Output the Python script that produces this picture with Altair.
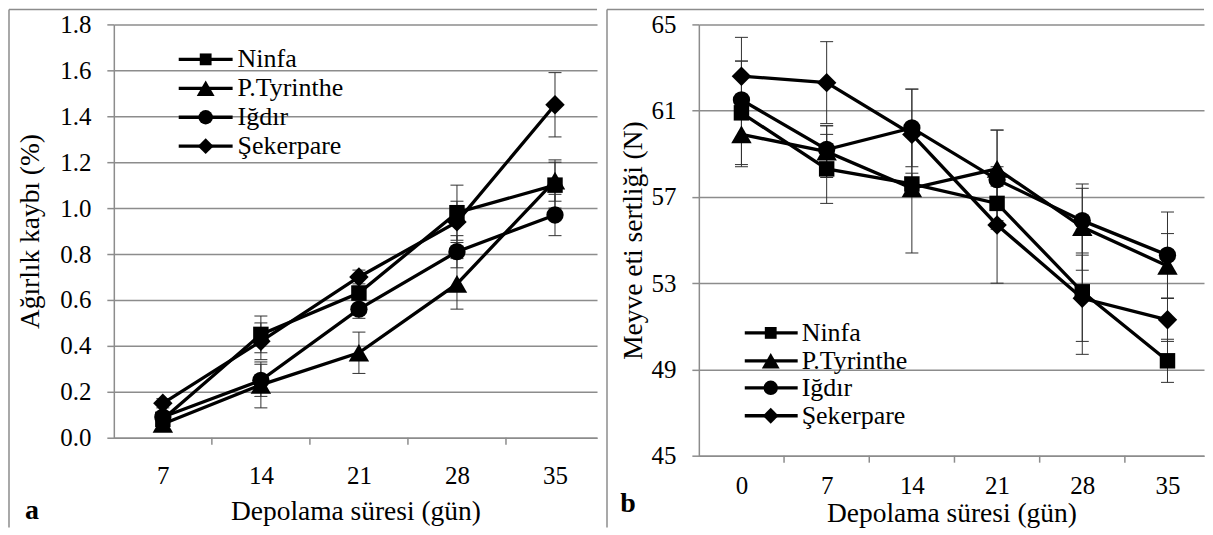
import altair as alt
import pandas as pd

FONT = "Liberation Serif, Times New Roman, serif"
GRAY = "#8c8c8c"

series = ["Ninfa", "P.Tyrinthe", "Iğdır", "Şekerpare"]
shapes = ["square", "triangle-up", "circle", "diamond"]
point_sizes = [240, 420, 300, 380]
legend_sizes = [140, 320, 210, 250]

# ---- panel a : weight loss (%)
days_a = [7, 14, 21, 28, 35]
loss_ninfa = [0.08, 0.45, 0.63, 0.98, 1.10]
loss_tyrinthe = [0.06, 0.23, 0.37, 0.67, 1.12]
loss_igdir = [0.09, 0.25, 0.56, 0.81, 0.97]
loss_sekerpare = [0.15, 0.42, 0.70, 0.94, 1.45]
err_a_ninfa = [0.02, 0.08, 0.03, 0.12, 0.10]
err_a_tyrinthe = [0.02, 0.10, 0.09, 0.11, 0.09]
err_a_igdir = [0.02, 0.07, 0.04, 0.07, 0.09]
err_a_sekerpare = [0.02, 0.08, 0.03, 0.09, 0.14]
ticks_a = [0.0, 0.2, 0.4, 0.6, 0.8, 1.0, 1.2, 1.4, 1.6, 1.8]
bounds_a = [10.5, 17.5, 24.5, 31.5]

# ---- panel b : flesh firmness (N)
days_b = [0, 7, 14, 21, 28, 35]
firm_ninfa = [60.9, 58.3, 57.6, 56.7, 52.6, 49.4]
firm_tyrinthe = [59.9, 59.1, 57.4, 58.3, 55.6, 53.8]
firm_igdir = [61.5, 59.2, 60.2, 57.8, 55.9, 54.3]
firm_sekerpare = [62.6, 62.3, 59.9, 55.7, 52.3, 51.3]
err_b_ninfa = [2.4, 1.6, 0.5, 0.8, 2.9, 1.0]
err_b_tyrinthe = [1.5, 1.2, 3.0, 1.8, 2.0, 1.5]
err_b_igdir = [1.8, 1.1, 1.8, 2.3, 1.5, 2.0]
err_b_sekerpare = [1.8, 1.9, 2.1, 2.7, 2.0, 1.0]
ticks_b = [45, 49, 53, 57, 61, 65]
bounds_b = [3.5, 10.5, 17.5, 24.5, 31.5]


def long_df(days, vals, errs):
    rows = []
    for s, v, e in zip(series, vals, errs):
        for d, a, b in zip(days, v, e):
            rows.append({"series": s, "day": d, "val": a, "err": b})
    return pd.DataFrame(rows)


df_a = long_df(days_a, [loss_ninfa, loss_tyrinthe, loss_igdir, loss_sekerpare],
               [err_a_ninfa, err_a_tyrinthe, err_a_igdir, err_a_sekerpare])
df_b = long_df(days_b, [firm_ninfa, firm_tyrinthe, firm_igdir, firm_sekerpare],
               [err_b_ninfa, err_b_tyrinthe, err_b_igdir, err_b_sekerpare])

one = pd.DataFrame({"k": [0]})


def make_panel(df, xdom, xvals, bounds, ydom, yvals, yfmt, ytitle, W, H,
               lab_pad_x, title_pad_x, title_pad_y, leg, letter, border_x):
    xaxis = alt.Axis(values=xvals, ticks=False, grid=False, domainColor=GRAY,
                     domainWidth=1.5, labelFont=FONT, labelFontSize=25,
                     labelColor="black", labelPadding=lab_pad_x, labelFlush=False,
                     title="Depolama süresi (gün)", titleFont=FONT,
                     titleFontSize=27.5, titleFontWeight="normal",
                     titleColor="black", titlePadding=title_pad_x)
    yaxis = alt.Axis(values=yvals, format=yfmt, tickSize=7, tickColor=GRAY,
                     tickWidth=1.5, grid=True, gridColor=GRAY, gridWidth=1.5,
                     domainColor=GRAY, domainWidth=1.5, labelFont=FONT,
                     labelFontSize=25, labelPadding=16, labelColor="black",
                     labelFlush=False, title=ytitle, titleFont=FONT,
                     titleFontSize=27.5, titleFontWeight="normal",
                     titleColor="black", titlePadding=title_pad_y)
    xs = alt.Scale(domain=xdom, nice=False, zero=False)
    ys = alt.Scale(domain=ydom, nice=False, zero=False)
    X = alt.X("day:Q", scale=xs, axis=xaxis)

    base = alt.Chart(df).transform_calculate(
        lo="datum.val - datum.err", hi="datum.val + datum.err")

    err = base.mark_rule(color="#303030", strokeWidth=1).encode(
        x=X, y=alt.Y("lo:Q", scale=ys, axis=yaxis), y2="hi:Q")
    cap_lo = base.mark_tick(orient="horizontal", size=13, thickness=1,
                            color="#303030", opacity=1).encode(
        x=X, y=alt.Y("lo:Q", scale=ys, axis=yaxis))
    cap_hi = base.mark_tick(orient="horizontal", size=13, thickness=1,
                            color="#303030", opacity=1).encode(
        x=X, y=alt.Y("hi:Q", scale=ys, axis=yaxis))
    lines = base.mark_line(color="black", strokeWidth=3.3).encode(
        x=X, y=alt.Y("val:Q", scale=ys, axis=yaxis), detail="series:N",
        order="day:Q")
    layers = [err, cap_lo, cap_hi, lines]
    for s, sh, sz in zip(series, shapes, point_sizes):
        layers.append(
            base.transform_filter(alt.datum.series == s)
            .mark_point(shape=sh, size=sz, filled=True, color="black",
                        opacity=1, strokeWidth=0)
            .encode(x=X, y=alt.Y("val:Q", scale=ys, axis=yaxis)))

    # x tick marks at category boundaries
    tdf = pd.DataFrame({"day": bounds})
    layers.append(alt.Chart(tdf).mark_rule(color=GRAY, strokeWidth=1.5).encode(
        x=X, y=alt.value(H), y2=alt.value(H + 7)))

    # legend
    lx0, lx1, lxm, ltx, lys = leg
    for s, sh, sz, ly in zip(series, shapes, legend_sizes, lys):
        c = alt.Chart(one)
        layers.append(c.mark_rule(color="black", strokeWidth=3.3).encode(
            x=alt.value(lx0), x2=alt.value(lx1), y=alt.value(ly)))
        layers.append(c.mark_point(shape=sh, size=sz, filled=True,
                                   color="black", opacity=1, strokeWidth=0)
                      .encode(x=alt.value(lxm), y=alt.value(ly)))
        layers.append(c.mark_text(text=s, align="left", baseline="middle",
                                  font=FONT, fontSize=26, color="black")
                      .encode(x=alt.value(ltx), y=alt.value(ly)))

    # panel frame
    c = alt.Chart(one)
    layers.append(c.mark_rule(color=GRAY, strokeWidth=1.5).encode(
        x=alt.value(border_x), y=alt.value(-15), y2=alt.value(504)))
    layers.append(c.mark_rule(color=GRAY, strokeWidth=1.5).encode(
        x=alt.value(border_x), x2=alt.value(W), y=alt.value(-15)))

    # panel letter
    lx, ly = letter[1], letter[2]
    layers.append(c.mark_text(text=letter[0], align="center", baseline="middle",
                              font=FONT, fontSize=28, fontWeight="bold",
                              color="black")
                  .encode(x=alt.value(lx), y=alt.value(ly)))

    return alt.layer(*layers).properties(width=W, height=H)


left = make_panel(
    df_a, [3.5, 38.0], days_a, bounds_a, [0, 1.8], ticks_a, ".1f",
    "Ağırlık kaybı (%)", 484, 414, 26, 9, 15,
    (65, 119, 92, 124, [35, 64, 93, 122]), ("a", -82, 487), -105)

right = make_panel(
    df_b, [-3.5, 38.0], days_b, bounds_b, [45, 65], ticks_b, "d",
    "Meyve eti sertliği (N)", 506, 432, 18, 1, 3,
    (46, 99, 72, 103, [309, 337, 364, 392]), ("b", -71, 480), -92)

chart = alt.hconcat(left, right, spacing=102, bounds="flush").properties(
    padding=0
).configure_view(stroke=None)

chart.save("out.html", embed_options={"renderer": "svg", "actions": False})
